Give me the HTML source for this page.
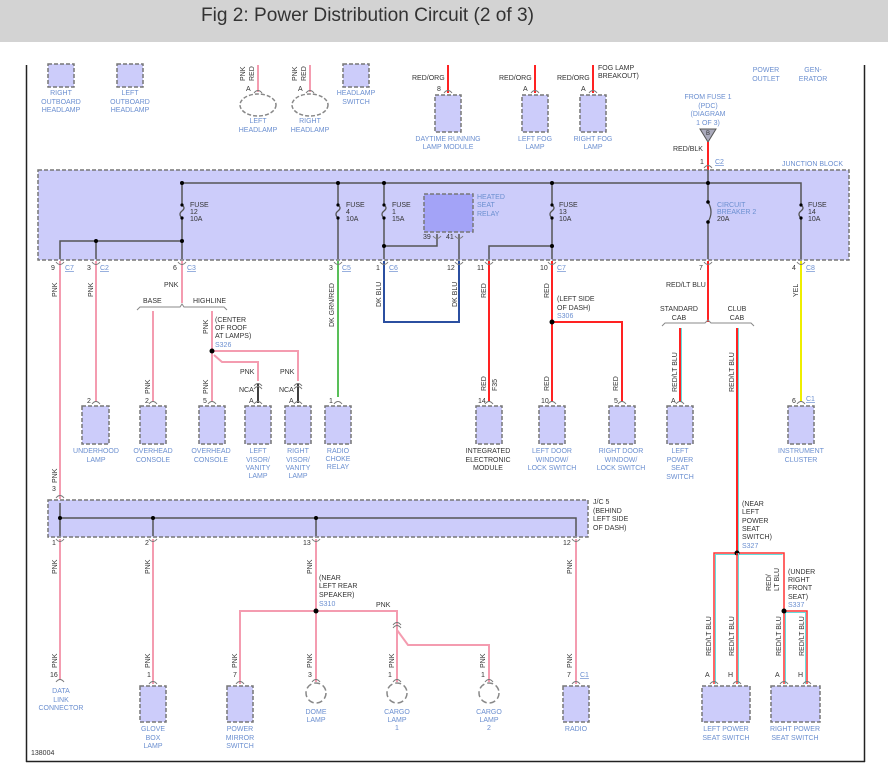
<!DOCTYPE html>
<html><head><meta charset="utf-8"><style>
html,body{margin:0;padding:0;background:#fff;}
svg{display:block}
text{font-family:"Liberation Sans",sans-serif;font-size:7px;}
.c{fill:#6b8fd0;text-anchor:middle}
.cl{fill:#6b8fd0}
.d{fill:#333}
.dm{fill:#333;text-anchor:middle}
.u{fill:#6b8fd0;text-decoration:underline}
.box{fill:#ccccfa;stroke:#777;stroke-width:1.5;stroke-dasharray:4,2}
.pk{stroke:#f49cb0;stroke-width:2;fill:none}
.rd{stroke:#f22;stroke-width:2;fill:none}
.bk{stroke:#555;stroke-width:1.5;fill:none}
.pin{stroke:#777;stroke-width:1;fill:none}
</style></head><body>
<svg width="888" height="781" viewBox="0 0 888 781" xmlns="http://www.w3.org/2000/svg">
<rect x="0" y="0" width="888" height="42" fill="#d3d3d3"/>
<text x="201" y="21" style="font-size:19px;fill:#333" textLength="333" lengthAdjust="spacingAndGlyphs">Fig 2: Power Distribution Circuit (2 of 3)</text>
<line x1="26.5" y1="65" x2="26.5" y2="762" stroke="#222" stroke-width="1.5"/>
<line x1="864.5" y1="65" x2="864.5" y2="762" stroke="#222" stroke-width="1.5"/>
<line x1="26" y1="761.5" x2="865" y2="761.5" stroke="#222" stroke-width="1.5"/>

<!-- top components -->
<rect class="box" x="48" y="64" width="26" height="23"/>
<text class="c" x="61" y="95">RIGHT</text><text class="c" x="61" y="104">OUTBOARD</text><text class="c" x="61" y="112">HEADLAMP</text>
<rect class="box" x="117" y="64" width="26" height="23"/>
<text class="c" x="130" y="95">LEFT</text><text class="c" x="130" y="104">OUTBOARD</text><text class="c" x="130" y="112">HEADLAMP</text>
<line class="pk" x1="258" y1="65" x2="258" y2="92"/>
<text class="d" transform="translate(245,81) rotate(-90)">PNK</text><text class="d" transform="translate(254,81) rotate(-90)">RED</text>
<text class="d" x="246" y="91">A</text>
<ellipse cx="258" cy="105" rx="18" ry="11" fill="none" stroke="#888" stroke-width="1.5" stroke-dasharray="4,2"/>
<text class="c" x="258" y="123">LEFT</text><text class="c" x="258" y="132">HEADLAMP</text>
<line class="pk" x1="310" y1="65" x2="310" y2="92"/>
<text class="d" transform="translate(297,81) rotate(-90)">PNK</text><text class="d" transform="translate(306,81) rotate(-90)">RED</text>
<text class="d" x="298" y="91">A</text>
<ellipse cx="310" cy="105" rx="18" ry="11" fill="none" stroke="#888" stroke-width="1.5" stroke-dasharray="4,2"/>
<text class="c" x="310" y="123">RIGHT</text><text class="c" x="310" y="132">HEADLAMP</text>
<rect class="box" x="343" y="64" width="26" height="23"/>
<text class="c" x="356" y="95">HEADLAMP</text><text class="c" x="356" y="104">SWITCH</text>

<line class="rd" x1="448" y1="65" x2="448" y2="93" stroke="#f64"/>
<text class="d" x="412" y="80">RED/ORG</text><text class="d" x="437" y="91">8</text>
<rect class="box" x="435" y="95" width="26" height="37"/>
<text class="c" x="448" y="141">DAYTIME RUNNING</text><text class="c" x="448" y="149">LAMP MODULE</text>
<line class="rd" x1="535" y1="65" x2="535" y2="93" stroke="#f64"/>
<text class="d" x="499" y="80">RED/ORG</text><text class="d" x="523" y="91">A</text>
<rect class="box" x="522" y="95" width="26" height="37"/>
<text class="c" x="535" y="141">LEFT FOG</text><text class="c" x="535" y="149">LAMP</text>
<line class="rd" x1="593" y1="65" x2="593" y2="93" stroke="#f64"/>
<text class="d" x="557" y="80">RED/ORG</text><text class="d" x="581" y="91">A</text>
<rect class="box" x="580" y="95" width="26" height="37"/>
<text class="c" x="593" y="141">RIGHT FOG</text><text class="c" x="593" y="149">LAMP</text>
<text class="d" x="598" y="70">FOG LAMP</text><text class="d" x="598" y="78">BREAKOUT)</text>
<text class="c" x="766" y="72">POWER</text><text class="c" x="766" y="81">OUTLET</text>
<text class="c" x="813" y="72">GEN-</text><text class="c" x="813" y="81">ERATOR</text>
<text class="c" x="708" y="99">FROM FUSE 1</text><text class="c" x="708" y="108">(PDC)</text><text class="c" x="708" y="116">(DIAGRAM</text><text class="c" x="708" y="125">1 OF 3)</text>
<polygon points="700,129 716,129 708,142" fill="#aab" stroke="#555"/>
<text class="dm" x="708" y="135" style="font-size:6px">B</text>
<line class="rd" x1="708" y1="142" x2="708" y2="170"/>
<text class="d" x="673" y="151">RED/BLK</text>
<text class="d" x="700" y="164">1</text><text class="u" x="715" y="164">C2</text>
<text class="cl" x="782" y="166">JUNCTION BLOCK</text>

<!-- junction block -->
<rect class="box" x="38" y="170" width="811" height="90"/>
<polyline class="bk" points="182,241 182,183 801,183 801,259"/>
<line class="bk" x1="338" y1="183" x2="338" y2="259"/>
<line class="bk" x1="384" y1="183" x2="384" y2="259"/>
<line class="bk" x1="552" y1="183" x2="552" y2="259"/>
<line class="bk" x1="708" y1="170" x2="708" y2="259"/>
<polyline class="bk" points="60,259 60,241 182,241 182,259"/>
<line class="bk" x1="96" y1="241" x2="96" y2="259"/>
<polyline class="bk" points="384,246 437,246 437,234"/>
<line class="bk" x1="459" y1="234" x2="459" y2="259"/>
<polyline class="bk" points="552,246 489,246 489,259"/>
<g fill="#000">
<circle cx="182" cy="183" r="2"/><circle cx="338" cy="183" r="2"/><circle cx="384" cy="183" r="2"/><circle cx="552" cy="183" r="2"/><circle cx="708" cy="183" r="2"/>
<circle cx="96" cy="241" r="2"/><circle cx="182" cy="241" r="2"/><circle cx="384" cy="246" r="2"/><circle cx="552" cy="246" r="2"/>
</g>
<g fill="#ccccfa" stroke="#555" stroke-width="1.3">
<rect x="178" y="205" width="8" height="13" stroke="none"/><path d="M182,205 q4,3 0,6 q-4,3 0,7" fill="none"/>
<rect x="334" y="205" width="8" height="13" stroke="none"/><path d="M338,205 q4,3 0,6 q-4,3 0,7" fill="none"/>
<rect x="380" y="205" width="8" height="13" stroke="none"/><path d="M384,205 q4,3 0,6 q-4,3 0,7" fill="none"/>
<rect x="548" y="205" width="8" height="13" stroke="none"/><path d="M552,205 q4,3 0,6 q-4,3 0,7" fill="none"/>
<rect x="797" y="205" width="8" height="13" stroke="none"/><path d="M801,205 q4,3 0,6 q-4,3 0,7" fill="none"/>
<rect x="703" y="202" width="10" height="20" stroke="none"/><path d="M708,202 q6,10 0,20" fill="none"/>
</g>
<g fill="#000"><circle cx="182" cy="205" r="1.6"/><circle cx="182" cy="218" r="1.6"/><circle cx="338" cy="205" r="1.6"/><circle cx="338" cy="218" r="1.6"/><circle cx="384" cy="205" r="1.6"/><circle cx="384" cy="218" r="1.6"/><circle cx="552" cy="205" r="1.6"/><circle cx="552" cy="218" r="1.6"/><circle cx="801" cy="205" r="1.6"/><circle cx="801" cy="218" r="1.6"/><circle cx="708" cy="202" r="1.8"/><circle cx="708" cy="222" r="1.8"/></g>
<text class="d" x="190" y="207">FUSE</text><text class="d" x="190" y="214">12</text><text class="d" x="190" y="221">10A</text>
<text class="d" x="346" y="207">FUSE</text><text class="d" x="346" y="214">4</text><text class="d" x="346" y="221">10A</text>
<text class="d" x="392" y="207">FUSE</text><text class="d" x="392" y="214">1</text><text class="d" x="392" y="221">15A</text>
<text class="d" x="559" y="207">FUSE</text><text class="d" x="559" y="214">13</text><text class="d" x="559" y="221">10A</text>
<text class="cl" x="717" y="207">CIRCUIT</text><text class="cl" x="717" y="214">BREAKER 2</text><text class="d" x="717" y="221">20A</text>
<text class="d" x="808" y="207">FUSE</text><text class="d" x="808" y="214">14</text><text class="d" x="808" y="221">10A</text>
<rect x="424" y="194" width="49" height="38" fill="#a3a3f7" stroke="#777" stroke-width="1.5" stroke-dasharray="4,2"/>
<text class="cl" x="477" y="199">HEATED</text><text class="cl" x="477" y="207">SEAT</text><text class="cl" x="477" y="216">RELAY</text>
<text class="d" x="423" y="239">39</text><text class="d" x="446" y="239">41</text>
<!-- connector labels -->
<text class="d" x="51" y="270">9</text><text class="u" x="65" y="270">C7</text>
<text class="d" x="87" y="270">3</text><text class="u" x="100" y="270">C2</text>
<text class="d" x="173" y="270">6</text><text class="u" x="187" y="270">C3</text>
<text class="d" x="329" y="270">3</text><text class="u" x="342" y="270">C5</text>
<text class="d" x="376" y="270">1</text><text class="u" x="389" y="270">C6</text>
<text class="d" x="447" y="270">12</text>
<text class="d" x="477" y="270">11</text>
<text class="d" x="540" y="270">10</text><text class="u" x="557" y="270">C7</text>
<text class="d" x="699" y="270">7</text>
<text class="d" x="792" y="270">4</text><text class="u" x="806" y="270">C8</text>

<!-- middle wires -->
<line class="pk" x1="60" y1="261" x2="60" y2="499"/>
<text class="d" transform="translate(57,297) rotate(-90)">PNK</text>
<text class="d" transform="translate(57,483) rotate(-90)">PNK</text>
<text class="d" x="52" y="491">3</text>
<line class="pk" x1="96" y1="261" x2="96" y2="402"/>
<text class="d" transform="translate(93,297) rotate(-90)">PNK</text>
<line class="pk" x1="182" y1="261" x2="182" y2="303"/>
<text class="d" x="164" y="287">PNK</text>
<path d="M137,310 l3,-3 h40 l2,-3 l2,3 h40 l3,3" fill="none" stroke="#888"/>
<text class="d" x="143" y="303">BASE</text><text class="d" x="193" y="303">HIGHLINE</text>
<line class="pk" x1="153" y1="311" x2="153" y2="402"/>
<text class="d" transform="translate(150,394) rotate(-90)">PNK</text>
<line class="pk" x1="212" y1="311" x2="212" y2="402"/>
<text class="d" transform="translate(208,334) rotate(-90)">PNK</text>
<text class="d" transform="translate(208,394) rotate(-90)">PNK</text>
<text class="d" x="215" y="322">(CENTER</text><text class="d" x="215" y="330">OF ROOF</text><text class="d" x="215" y="338">AT LAMPS)</text><text class="cl" x="215" y="347">S326</text>
<polyline class="pk" points="212,351 298,351 298,381"/>
<polyline class="pk" points="214,355 222,362 258,362 258,381"/>
<circle cx="212" cy="351" r="2.5" fill="#000"/>
<text class="d" x="240" y="374">PNK</text><text class="d" x="280" y="374">PNK</text>
<text class="d" x="239" y="392">NCA</text><text class="d" x="279" y="392">NCA</text>
<line x1="258" y1="384" x2="258" y2="403" stroke="#000" stroke-width="1.5"/>
<line x1="298" y1="384" x2="298" y2="403" stroke="#000" stroke-width="1.5"/>
<path class="pin" d="M254,386 q4,-5 8,0 M254,389 q4,-5 8,0 M294,386 q4,-5 8,0 M294,389 q4,-5 8,0"/>
<line x1="338" y1="261" x2="338" y2="397" stroke="#2a2" stroke-width="1.5"/>
<text class="d" transform="translate(334,327) rotate(-90)">DK GRN/RED</text>
<polyline points="384,261 384,322 459,322 459,261" fill="none" stroke="#2b4fa0" stroke-width="2"/>
<text class="d" transform="translate(381,307) rotate(-90)">DK BLU</text>
<text class="d" transform="translate(457,307) rotate(-90)">DK BLU</text>
<line class="rd" x1="489" y1="261" x2="489" y2="402"/>
<text class="d" transform="translate(486,298) rotate(-90)">RED</text>
<text class="d" transform="translate(486,391) rotate(-90)">RED</text><text class="d" transform="translate(497,391) rotate(-90)">F35</text>
<line class="rd" x1="552" y1="261" x2="552" y2="402"/>
<polyline class="rd" points="552,322 622,322 622,402"/>
<circle cx="552" cy="322" r="2.5" fill="#000"/>
<text class="d" transform="translate(549,298) rotate(-90)">RED</text>
<text class="d" transform="translate(549,391) rotate(-90)">RED</text>
<text class="d" transform="translate(618,391) rotate(-90)">RED</text>
<text class="d" x="557" y="301">(LEFT SIDE</text><text class="d" x="557" y="310">OF DASH)</text><text class="cl" x="557" y="318">S306</text>
<line class="rd" x1="708" y1="261" x2="708" y2="322"/>
<text class="d" x="666" y="287">RED/LT BLU</text>
<text class="dm" x="679" y="311">STANDARD</text><text class="dm" x="679" y="320">CAB</text>
<text class="dm" x="737" y="311">CLUB</text><text class="dm" x="737" y="320">CAB</text>
<path d="M662,326 l3,-3 h40 l3,-3 l3,3 h40 l3,3" fill="none" stroke="#888"/>
<line class="rd" x1="680" y1="328" x2="680" y2="402" stroke-width="1.5"/><line x1="681.5" y1="328" x2="681.5" y2="402" stroke="#6dd" stroke-width="1"/>
<line class="rd" x1="737" y1="328" x2="737" y2="553" stroke-width="1.5"/><line x1="738.5" y1="328" x2="738.5" y2="553" stroke="#6dd" stroke-width="1"/>
<text class="d" transform="translate(677,392) rotate(-90)">RED/LT BLU</text>
<text class="d" transform="translate(734,392) rotate(-90)">RED/LT BLU</text>
<line x1="801" y1="261" x2="801" y2="402" stroke="#ee0" stroke-width="2"/>
<text class="d" transform="translate(798,297) rotate(-90)">YEL</text>
<!-- middle boxes -->
<g class="box"><rect x="82" y="406" width="27" height="38"/><rect x="140" y="406" width="26" height="38"/><rect x="199" y="406" width="26" height="38"/><rect x="245" y="406" width="26" height="38"/><rect x="285" y="406" width="26" height="38"/><rect x="325" y="406" width="26" height="38"/><rect x="476" y="406" width="26" height="38"/><rect x="539" y="406" width="26" height="38"/><rect x="609" y="406" width="26" height="38"/><rect x="667" y="406" width="26" height="38"/><rect x="788" y="406" width="26" height="38"/></g>
<text class="d" x="87" y="403">2</text><text class="d" x="145" y="403">2</text><text class="d" x="203" y="403">5</text><text class="d" x="249" y="403">A</text><text class="d" x="289" y="403">A</text><text class="d" x="329" y="403">1</text>
<text class="d" x="478" y="403">14</text><text class="d" x="541" y="403">10</text><text class="d" x="614" y="403">5</text><text class="d" x="671" y="403">A</text><text class="d" x="792" y="403">6</text><text class="u" x="806" y="401">C1</text>
<text class="c" x="96" y="453">UNDERHOOD</text><text class="c" x="96" y="462">LAMP</text>
<text class="c" x="153" y="453">OVERHEAD</text><text class="c" x="153" y="462">CONSOLE</text>
<text class="c" x="211" y="453">OVERHEAD</text><text class="c" x="211" y="462">CONSOLE</text>
<text class="c" x="258" y="453">LEFT</text><text class="c" x="258" y="462">VISOR/</text><text class="c" x="258" y="470">VANITY</text><text class="c" x="258" y="478">LAMP</text>
<text class="c" x="298" y="453">RIGHT</text><text class="c" x="298" y="462">VISOR/</text><text class="c" x="298" y="470">VANITY</text><text class="c" x="298" y="478">LAMP</text>
<text class="c" x="338" y="453">RADIO</text><text class="c" x="338" y="461">CHOKE</text><text class="c" x="338" y="469">RELAY</text>
<text class="dm" x="488" y="453">INTEGRATED</text><text class="dm" x="488" y="462">ELECTRONIC</text><text class="dm" x="488" y="470">MODULE</text>
<text class="c" x="552" y="453">LEFT DOOR</text><text class="c" x="552" y="462">WINDOW/</text><text class="c" x="552" y="470">LOCK SWITCH</text>
<text class="c" x="621" y="453">RIGHT DOOR</text><text class="c" x="621" y="462">WINDOW/</text><text class="c" x="621" y="470">LOCK SWITCH</text>
<text class="c" x="680" y="453">LEFT</text><text class="c" x="680" y="462">POWER</text><text class="c" x="680" y="470">SEAT</text><text class="c" x="680" y="479">SWITCH</text>
<text class="c" x="801" y="453">INSTRUMENT</text><text class="c" x="801" y="462">CLUSTER</text>

<!-- JC5 -->
<rect class="box" x="48" y="500" width="540" height="37"/>
<polyline class="bk" points="60,503 60,518 576,518 576,536"/>
<line class="bk" x1="60" y1="518" x2="60" y2="536"/><line class="bk" x1="153" y1="518" x2="153" y2="536"/><line class="bk" x1="316" y1="518" x2="316" y2="536"/>
<g fill="#000"><circle cx="60" cy="518" r="2"/><circle cx="153" cy="518" r="2"/><circle cx="316" cy="518" r="2"/></g>
<text class="d" x="593" y="504">J/C 5</text><text class="d" x="593" y="513">(BEHIND</text><text class="d" x="593" y="521">LEFT SIDE</text><text class="d" x="593" y="530">OF DASH)</text>
<text class="d" x="52" y="545">1</text><text class="d" x="145" y="545">2</text><text class="d" x="303" y="545">13</text><text class="d" x="563" y="545">12</text>

<line class="pk" x1="60" y1="539" x2="60" y2="680"/>
<text class="d" transform="translate(57,574) rotate(-90)">PNK</text><text class="d" transform="translate(57,668) rotate(-90)">PNK</text>
<text class="d" x="50" y="677">16</text>
<text class="c" x="61" y="693">DATA</text><text class="c" x="61" y="702">LINK</text><text class="c" x="61" y="710">CONNECTOR</text>
<line class="pk" x1="153" y1="539" x2="153" y2="684"/>
<text class="d" transform="translate(150,574) rotate(-90)">PNK</text><text class="d" transform="translate(150,668) rotate(-90)">PNK</text>
<text class="d" x="147" y="677">1</text>
<line class="pk" x1="316" y1="539" x2="316" y2="682"/>
<text class="d" transform="translate(312,574) rotate(-90)">PNK</text><text class="d" transform="translate(312,668) rotate(-90)">PNK</text>
<text class="d" x="319" y="580">(NEAR</text><text class="d" x="319" y="588">LEFT REAR</text><text class="d" x="319" y="597">SPEAKER)</text><text class="cl" x="319" y="606">S310</text>
<polyline class="pk" points="240,684 240,611 397,611 397,682"/>
<polyline class="pk" points="397,630 408,645 489,645 489,682"/>
<circle cx="316" cy="611" r="2.5" fill="#000"/>
<text class="d" x="376" y="607">PNK</text>
<path class="pin" d="M393,625 q4,-5 8,0 M393,628 q4,-5 8,0"/>
<text class="d" transform="translate(237,668) rotate(-90)">PNK</text><text class="d" transform="translate(394,668) rotate(-90)">PNK</text><text class="d" transform="translate(485,668) rotate(-90)">PNK</text>
<text class="d" x="233" y="677">7</text><text class="d" x="308" y="677">3</text><text class="d" x="388" y="677">1</text><text class="d" x="481" y="677">1</text>
<g fill="none" stroke="#888" stroke-width="1.5" stroke-dasharray="6,3"><circle cx="316" cy="693" r="10"/><circle cx="397" cy="693" r="10"/><circle cx="489" cy="693" r="10"/></g>
<text class="c" x="316" y="714">DOME</text><text class="c" x="316" y="722">LAMP</text>
<text class="c" x="397" y="714">CARGO</text><text class="c" x="397" y="722">LAMP</text><text class="c" x="397" y="730">1</text>
<text class="c" x="489" y="714">CARGO</text><text class="c" x="489" y="722">LAMP</text><text class="c" x="489" y="730">2</text>
<line class="pk" x1="576" y1="539" x2="576" y2="684"/>
<text class="d" transform="translate(572,574) rotate(-90)">PNK</text><text class="d" transform="translate(572,668) rotate(-90)">PNK</text>
<text class="d" x="567" y="677">7</text><text class="u" x="580" y="677">C1</text>
<g class="box"><rect x="140" y="686" width="26" height="36"/><rect x="227" y="686" width="26" height="36"/><rect x="563" y="686" width="26" height="36"/><rect x="702" y="686" width="48" height="36"/><rect x="771" y="686" width="49" height="36"/></g>
<text class="c" x="153" y="731">GLOVE</text><text class="c" x="153" y="740">BOX</text><text class="c" x="153" y="748">LAMP</text>
<text class="c" x="240" y="731">POWER</text><text class="c" x="240" y="740">MIRROR</text><text class="c" x="240" y="748">SWITCH</text>
<text class="c" x="576" y="731">RADIO</text>
<!-- seat switches -->
<g stroke-width="1.5" fill="none">
<polyline points="714,684 714,553 784,553 784,684" stroke="#f33"/>
<polyline points="715.5,684 715.5,554.5 782.5,554.5" stroke="#6dd" stroke-width="1"/>
<polyline points="785.5,611 785.5,684" stroke="#6dd" stroke-width="1"/>
<polyline points="784,611 807,611 807,684" stroke="#f33"/>
<polyline points="786,612.5 805.5,612.5 805.5,684" stroke="#6dd" stroke-width="1"/>
</g>
<circle cx="737" cy="553" r="2.5" fill="#000"/><circle cx="784" cy="611" r="2.5" fill="#000"/>
<line x1="737" y1="553" x2="737" y2="684" stroke="#f33" stroke-width="1.5"/><line x1="738.5" y1="553" x2="738.5" y2="684" stroke="#6dd" stroke-width="1"/>
<text class="d" x="742" y="506">(NEAR</text><text class="d" x="742" y="514">LEFT</text><text class="d" x="742" y="523">POWER</text><text class="d" x="742" y="531">SEAT</text><text class="d" x="742" y="539">SWITCH)</text><text class="cl" x="742" y="548">S327</text>
<text class="d" x="788" y="574">(UNDER</text><text class="d" x="788" y="582">RIGHT</text><text class="d" x="788" y="590">FRONT</text><text class="d" x="788" y="599">SEAT)</text><text class="cl" x="788" y="607">S337</text>
<text class="d" transform="translate(771,591) rotate(-90)">RED/</text><text class="d" transform="translate(779,591) rotate(-90)">LT BLU</text>
<text class="d" transform="translate(711,656) rotate(-90)">RED/LT BLU</text><text class="d" transform="translate(734,656) rotate(-90)">RED/LT BLU</text>
<text class="d" transform="translate(781,656) rotate(-90)">RED/LT BLU</text><text class="d" transform="translate(804,656) rotate(-90)">RED/LT BLU</text>
<text class="d" x="705" y="677">A</text><text class="d" x="728" y="677">H</text><text class="d" x="775" y="677">A</text><text class="d" x="798" y="677">H</text>
<text class="c" x="726" y="731">LEFT POWER</text><text class="c" x="726" y="740">SEAT SWITCH</text>
<text class="c" x="795" y="731">RIGHT POWER</text><text class="c" x="795" y="740">SEAT SWITCH</text>
<text class="d" x="31" y="755">138004</text>
<!-- pin arcs -->
<path class="pin" d="M56,262 q4,5 8,0 M92,262 q4,5 8,0 M178,262 q4,5 8,0 M334,262 q4,5 8,0 M380,262 q4,5 8,0 M455,262 q4,5 8,0 M485,262 q4,5 8,0 M548,262 q4,5 8,0 M704,262 q4,5 8,0 M797,262 q4,5 8,0 M704,168 q4,-5 8,0
M92,404 q4,-5 8,0 M149,404 q4,-5 8,0 M208,404 q4,-5 8,0 M254,404 q4,-5 8,0 M294,404 q4,-5 8,0 M334,404 q4,-5 8,0 M485,404 q4,-5 8,0 M548,404 q4,-5 8,0 M618,404 q4,-5 8,0 M676,404 q4,-5 8,0 M797,404 q4,-5 8,0
M56,498 q4,-5 8,0 M56,539 q4,5 8,0 M149,539 q4,5 8,0 M312,539 q4,5 8,0 M572,539 q4,5 8,0
M56,682 q4,-5 8,0 M149,684 q4,-5 8,0 M236,684 q4,-5 8,0 M312,682 q4,-5 8,0 M393,682 q4,-5 8,0 M485,682 q4,-5 8,0 M572,684 q4,-5 8,0 M710,684 q4,-5 8,0 M733,684 q4,-5 8,0 M780,684 q4,-5 8,0 M803,684 q4,-5 8,0
M254,93 q4,-5 8,0 M306,93 q4,-5 8,0 M444,93 q4,-5 8,0 M531,93 q4,-5 8,0 M589,93 q4,-5 8,0 M433,236 q4,5 8,0 M455,236 q4,5 8,0"/>
</svg>
</body></html>
